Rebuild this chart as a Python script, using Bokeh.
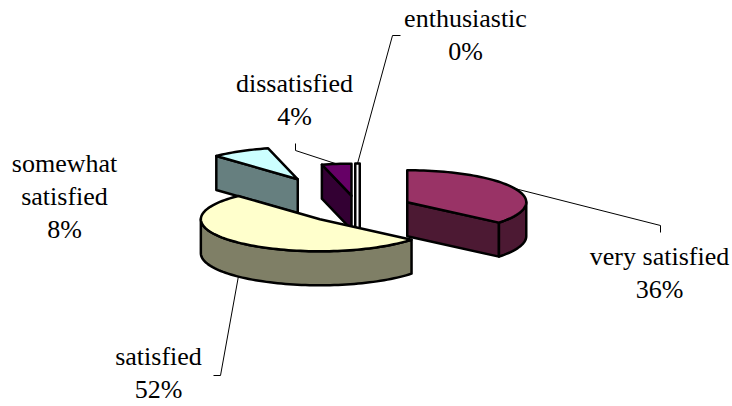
import math

from bokeh.plotting import figure
from bokeh.models import Range1d
from bokeh.embed import file_html
from bokeh.resources import INLINE
from bokeh.core.properties import value

# --- data -------------------------------------------------------------
categories = ["enthusiastic", "very satisfied", "satisfied", "somewhat satisfied", "dissatisfied"]
percents = [0, 36, 52, 8, 4]

# --- style --------------------------------------------------------------
top_colors = ["#9999FF", "#993366", "#FFFFCC", "#CCFFFF", "#660066"]
explode = [48, 55, 55, 124, 48]          # pull-out distance of each slice
wrap_label = [False, False, False, True, False]

W, H = 732, 406
CX, CY = 357, 208        # pie centre before explosion
RX, RY = 119, 32         # ellipse radii of the tilted pie
DEPTH = 34               # thickness of the pie
ZERO_GAP = 4.5           # drawn width of an empty slice
EDGE_W = 2.5
FONT = "Liberation Serif"
FONT_SIZE = "26px"
LINE_STEP = 33

# label placement (centre x, first line y) and leader-line bends
label_pos = [(465, 18), (659, 256), (158, 356), (64, 163), (294, 83)]
leader_bends = [
    [(392, 35), (400, 35)],
    [(660, 225), (660, 232)],
    [(220, 375), (213, 375)],
    None,
    [(295, 150), (295, 143)],
]


def darker(hex_color, f=0.5):
    h = hex_color.lstrip("#")
    r, g, b = (int(h[i:i + 2], 16) for i in (0, 2, 4))
    return "#%02x%02x%02x" % (int(r * f), int(g * f), int(b * f))


def rim(cx, cy, deg, dy=0.0):
    t = math.radians(deg)
    return cx + RX * math.sin(t), cy - RY * math.cos(t) + dy


p = figure(width=W, height=H, x_range=Range1d(0, W), y_range=Range1d(H, 0),
           output_backend="svg", toolbar_location=None, min_border=0)
p.axis.visible = False
p.grid.visible = False
p.outline_line_color = None
p.background_fill_color = "white"
p.border_fill_color = "white"

total = float(sum(percents))
slices = []
a0 = 0.0
for i, pct in enumerate(percents):
    sweep = pct / total * 360.0
    a1 = a0 + sweep
    mid = (a0 + a1) / 2.0
    t = math.radians(mid)
    cx = CX + explode[i] * math.sin(t)
    cy = CY - explode[i] * (RY / RX) * math.cos(t)
    slices.append(dict(i=i, a0=a0, a1=a1, mid=mid, cx=cx, cy=cy))
    a0 = a1


def arc_pts(cx, cy, s, e, dy=0.0, n=None):
    if n is None:
        n = max(2, int(abs(e - s) / 2) + 2)
    return [rim(cx, cy, s + (e - s) * k / (n - 1), dy) for k in range(n)]


def patch(pts, color):
    xs = [q[0] for q in pts]
    ys = [q[1] for q in pts]
    p.patch(xs, ys, fill_color=color, line_color="black",
            line_width=EDGE_W, line_join="round")


# paint from the back of the scene to the front
for s in sorted(slices, key=lambda d: d["cy"]):
    i, cx, cy = s["i"], s["cx"], s["cy"]
    top, side = top_colors[i], darker(top_colors[i])
    a_s, a_e = s["a0"], s["a1"]

    if a_e - a_s < 1e-9:
        # an empty slice shows only as a thin upright wall
        rx_, ry_ = rim(cx, cy, a_s)
        dx, dy = rx_ - cx, ry_ - cy
        nrm = math.hypot(dx, dy)
        ox, oy = -dy / nrm * ZERO_GAP / 2, dx / nrm * ZERO_GAP / 2
        patch([(rx_ - ox, ry_ - oy), (rx_ + ox, ry_ + oy),
               (cx + ox, cy + oy + DEPTH), (cx - ox, cy - oy + DEPTH)], "white")
        continue

    # radial walls that face the viewer
    for ang, normal in ((a_s, a_s - 90), (a_e, a_e + 90)):
        if math.cos(math.radians(normal)) < -1e-6:
            r = rim(cx, cy, ang)
            patch([(cx, cy), r, (r[0], r[1] + DEPTH), (cx, cy + DEPTH)], side)

    # curved outer wall on the near half of the ellipse
    lo, hi = max(a_s, 90.0), min(a_e, 270.0)
    if hi > lo:
        upper = arc_pts(cx, cy, lo, hi)
        lower = arc_pts(cx, cy, lo, hi, DEPTH)
        patch(upper + lower[::-1], side)

    # top face
    patch([(cx, cy)] + arc_pts(cx, cy, a_s, a_e), top)

# leader lines
for s in slices:
    i = s["i"]
    if leader_bends[i]:
        front = math.cos(math.radians(s["mid"])) < 0
        ax, ay = rim(s["cx"], s["cy"], s["mid"], DEPTH if front else 0.0)
        pts = [(ax, ay)] + leader_bends[i]
        p.line([q[0] for q in pts], [q[1] for q in pts], line_color="black", line_width=1)

# labels: category name (wrapped where asked) and its share, one line per text
for s in slices:
    i = s["i"]
    name = categories[i]
    lines = name.split(" ") if wrap_label[i] else [name]
    lines = lines + ["%d%%" % percents[i]]
    lx, ly = label_pos[i]
    for k, line in enumerate(lines):
        p.text(x=[lx], y=[ly + k * LINE_STEP], text=[line],
               text_font=value(FONT), text_font_size=FONT_SIZE,
               text_align="center", text_baseline="alphabetic")

open("out.html", "w").write(file_html(p, INLINE))
